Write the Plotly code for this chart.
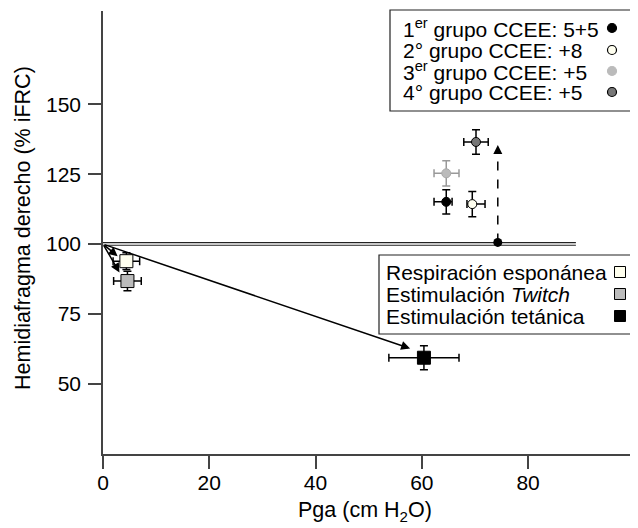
import plotly.graph_objects as go

# ---------------- data ----------------
grp_names = ["1er grupo CCEE: 5+5", "2° grupo CCEE: +8", "3er grupo CCEE: +5", "4° grupo CCEE: +5"]
grp_x = [64.6, 69.5, 64.6, 70.2]
grp_y = [115.1, 114.3, 125.3, 136.5]
grp_xerr_plus = [1.1, 2.4, 2.4, 2.3]
grp_xerr_minus = [2.3, 1.0, 2.3, 2.3]
grp_yerr = [4.3, 4.5, 4.5, 4.4]
grp_fill = ["#000000", "#FFFFF0", "#BBBBBB", "#777777"]
grp_line = ["#000000", "#000000", "#AAAAAA", "#000000"]
grp_err = ["#000000", "#000000", "#999999", "#000000"]

cond_names = ["Respiración esponánea", "Estimulación <i>Twitch</i>", "Estimulación tetánica"]
cond_x = [4.4, 4.6, 60.4]
cond_y = [93.9, 86.8, 59.4]
cond_xerr = [2.5, 2.6, 6.6]
cond_yerr = [3.0, 3.5, 4.3]
cond_fill = ["#FFFFEE", "#BBBBBB", "#000000"]

origin = (0, 100)
arrow_tip_x = [2.75, 3.1, 57.8]
arrow_tip_y = [95.7, 89.9, 62.7]

base_x = [0, 89]
base_y_upper = 100.5
base_y_lower = 99.6

dot_x = [74.3]
dot_y = [100.6]
dash_end_y = 135.4

x_ticks = [0, 20, 40, 60, 80]
y_ticks = [50, 75, 100, 125, 150]

# ---------------- figure ----------------
OFF = 8  # browser default body margin
W, H = 638 - OFF, 528 - OFF
L, R, T, B = 103, 637, 11, 454   # plot area in page pixels
FONT = "Arial, Liberation Sans, Helvetica, sans-serif"
FS = 21


def px(xp):
    return (xp - L) / (R - L)


def py(yp):
    return (B - yp) / (B - T)


fig = go.Figure()

# double baseline
for yy in (base_y_upper, base_y_lower):
    fig.add_trace(go.Scatter(x=base_x, y=[yy, yy], mode="lines",
                             line=dict(color="#222222", width=1.2),
                             hoverinfo="skip", showlegend=False))

# dashed vertical arrow shaft
fig.add_trace(go.Scatter(x=[dot_x[0], dot_x[0]], y=[dot_y[0], dash_end_y - 2.5], mode="lines",
                         line=dict(color="black", width=1.5, dash="dash"),
                         hoverinfo="skip", showlegend=False))

# group circles
for i in range(len(grp_x)):
    fig.add_trace(go.Scatter(
        x=[grp_x[i]], y=[grp_y[i]], mode="markers",
        marker=dict(symbol="circle", size=9, color=grp_fill[i],
                    line=dict(color=grp_line[i], width=1)),
        error_x=dict(type="data", symmetric=False, array=[grp_xerr_plus[i]],
                     arrayminus=[grp_xerr_minus[i]], color=grp_err[i], thickness=1.5, width=4),
        error_y=dict(type="data", array=[grp_yerr[i]], color=grp_err[i], thickness=1.5, width=4),
        showlegend=False, name=grp_names[i]))

# condition squares
for i in range(len(cond_x)):
    fig.add_trace(go.Scatter(
        x=[cond_x[i]], y=[cond_y[i]], mode="markers",
        marker=dict(symbol="square", size=13, color=cond_fill[i],
                    line=dict(color="black", width=1)),
        error_x=dict(type="data", array=[cond_xerr[i]], color="black", thickness=1.5, width=4),
        error_y=dict(type="data", array=[cond_yerr[i]], color="black", thickness=1.5, width=4),
        showlegend=False, name=cond_names[i]))

# black dot on baseline
fig.add_trace(go.Scatter(x=dot_x, y=dot_y, mode="markers",
                         marker=dict(symbol="circle", size=9, color="black"),
                         showlegend=False))

annotations = []
# solid arrows from origin
for tx, ty in zip(arrow_tip_x, arrow_tip_y):
    annotations.append(dict(x=tx, y=ty, ax=origin[0], ay=origin[1], xref="x", yref="y",
                            axref="x", ayref="y", text="", showarrow=True,
                            arrowhead=2, arrowsize=1.2, arrowwidth=1.5, arrowcolor="black"))
# dashed arrow head
annotations.append(dict(x=dot_x[0], y=dash_end_y, ax=dot_x[0], ay=dash_end_y - 3, xref="x", yref="y",
                        axref="x", ayref="y", text="", showarrow=True,
                        arrowhead=2, arrowsize=1.2, arrowwidth=1.5, arrowcolor="black"))

shapes = []
# legend 1
shapes.append(dict(type="rect", xref="paper", yref="paper", x0=px(390), x1=px(631),
                   y0=py(111), y1=py(10), line=dict(color="#222222", width=1.2), fillcolor="white",
                   layer="above"))
leg1_rows = [28, 50, 71, 92]
leg1_text = ["1<sup>er</sup> grupo CCEE: 5+5", "2° grupo CCEE: +8",
             "3<sup>er</sup> grupo CCEE: +5", "4° grupo CCEE: +5"]
leg1_sym_line = ["#000000", "#000000", "#BBBBBB", "#000000"]
for yy, txt, fc, lc in zip(leg1_rows, leg1_text, grp_fill, leg1_sym_line):
    annotations.append(dict(xref="paper", yref="paper", x=px(401), y=py(yy), xanchor="left",
                            yanchor="middle", text=txt, showarrow=False,
                            font=dict(size=FS, color="black", family=FONT)))
    shapes.append(dict(type="circle", xref="paper", yref="paper", x0=px(607.5), x1=px(616.5),
                       y0=py(yy + 4.5), y1=py(yy - 4.5), fillcolor=fc,
                       line=dict(color=lc, width=1.2), layer="above"))

# legend 2
shapes.append(dict(type="rect", xref="paper", yref="paper", x0=px(379), x1=px(636),
                   y0=py(334), y1=py(255), line=dict(color="#222222", width=1.2), fillcolor="white",
                   layer="above"))
leg2_rows = [272, 294, 316]
for yy, txt, fc in zip(leg2_rows, cond_names, cond_fill):
    annotations.append(dict(xref="paper", yref="paper", x=px(384), y=py(yy), xanchor="left",
                            yanchor="middle", text=txt, showarrow=False,
                            font=dict(size=FS, color="black", family=FONT)))
    shapes.append(dict(type="rect", xref="paper", yref="paper", x0=px(614.5), x1=px(625.5),
                       y0=py(yy + 5.5), y1=py(yy - 5.5), fillcolor=fc,
                       line=dict(color="black", width=1), layer="above"))

# axis titles
annotations.append(dict(xref="paper", yref="paper", x=px(365), y=py(511), xanchor="center",
                        yanchor="middle", text="Pga (cm H<sub>2</sub>O)", showarrow=False,
                        font=dict(size=21.5, color="black", family=FONT)))
annotations.append(dict(xref="paper", yref="paper", x=px(23), y=py(228), xanchor="center",
                        yanchor="middle", text="Hemidiafragma derecho (% iFRC)", showarrow=False,
                        textangle=-90, font=dict(size=21.5, color="black", family=FONT)))

fig.update_layout(
    width=W, height=H,
    margin=dict(l=L - OFF, r=W - (R - OFF), t=T - OFF, b=H - (B - OFF), autoexpand=False),
    paper_bgcolor="white", plot_bgcolor="white",
    font=dict(family=FONT, size=20, color="black"),
    showlegend=False,
    annotations=annotations,
    shapes=shapes,
)
fig.update_xaxes(range=[0, 100.5], tickmode="array", tickvals=x_ticks,
                 ticktext=[str(v) for v in x_ticks], showgrid=False, zeroline=False,
                 showline=True, linecolor="#444444", linewidth=1.5, ticks="outside",
                 ticklen=13, tickwidth=1.5, tickcolor="#444444", ticklabelstandoff=-4,
                 tickfont=dict(size=21, color="black", family=FONT))
fig.update_yaxes(range=[25, 183.3], tickmode="array", tickvals=y_ticks,
                 ticktext=[str(v) for v in y_ticks], showgrid=False, zeroline=False,
                 showline=True, linecolor="#444444", linewidth=1.5, ticks="outside",
                 ticklen=13, tickwidth=1.5, tickcolor="#444444", ticklabelstandoff=3,
                 tickfont=dict(size=21, color="black", family=FONT))

fig.write_html("out.html")
